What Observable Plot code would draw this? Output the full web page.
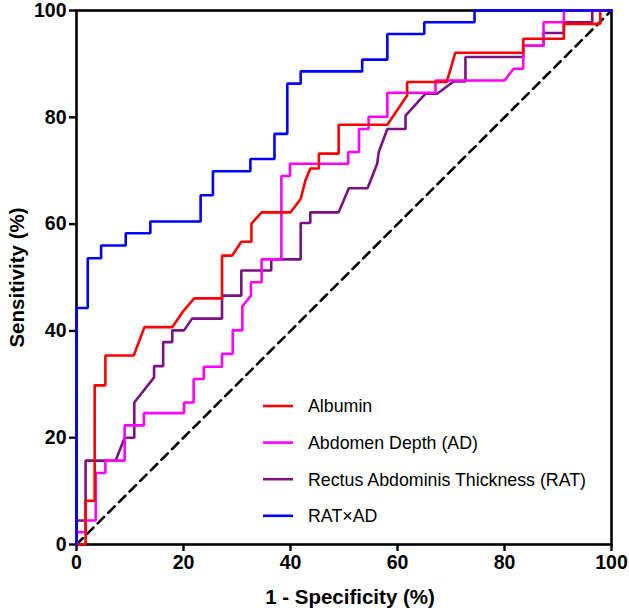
<!DOCTYPE html>
<html><head><meta charset="utf-8">
<script src="https://cdn.jsdelivr.net/npm/d3@7"></script>
<script src="https://cdn.jsdelivr.net/npm/@observablehq/plot@0.6"></script>
<style>body{margin:0;background:#fff}</style>
</head><body><div id="chart"></div>
<script>
const seriesNames = ["Albumin", "Abdomen Depth (AD)", "Rectus Abdominis Thickness (RAT)", "RAT×AD"];
const seriesColors = ["#ff0000", "#ff00ff", "#7b1282", "#0000ff"];
const axisTicks = [0, 20, 40, 60, 80, 100];
const xTitle = "1 - Specificity (%)";
const yTitle = "Sensitivity (%)";
const chanceLine = [[0, 0], [100, 100]];

const albumin = [[0,0],[1.7,0],[1.7,8.2],[3.4,8.2],[3.4,29.8],[5.4,29.8],[5.4,35.4],[10.7,35.4],[12.7,40.7],[17.9,40.7],[19.8,43.5],[22,46.1],[27.2,46.1],[27.2,54.1],[29.1,54.1],[30.8,56.7],[32.7,56.7],[32.7,60.1],[34.6,62.2],[40.0,62.2],[41.9,64.7],[42.8,68.2],[43.7,70.4],[45.3,70.4],[45.3,73.2],[49.0,73.2],[49.0,78.6],[58.1,78.6],[61.8,84.1],[61.8,86.6],[69.2,86.6],[70.8,92.1],[83.5,92.1],[83.5,94.7],[91.1,94.7],[91.1,97.5],[97.9,97.5],[97.9,100],[100,100]];

const abdomenDepth = [[0,0],[0,2.3],[1.7,2.3],[1.7,4.5],[3.6,4.5],[3.6,13.4],[5.4,13.4],[5.4,15.7],[9.0,15.7],[9.0,22.3],[12.6,22.3],[12.6,24.6],[20.1,24.6],[20.1,26.6],[21.9,26.6],[21.9,31.0],[23.8,31.0],[23.8,33.3],[27.2,33.3],[27.2,35.7],[29.2,35.7],[29.2,40.1],[31.0,40.1],[31.0,44.6],[32.6,46.6],[32.6,49.1],[34.6,49.1],[34.6,53.4],[38.3,53.4],[38.3,69.0],[39.9,69.0],[39.9,71.3],[50.8,71.3],[50.8,73.5],[52.8,73.5],[52.8,77.8],[54.6,77.8],[54.6,80.1],[58.1,80.1],[58.1,84.6],[67.1,84.6],[67.1,86.9],[80.0,86.9],[81.7,89.1],[83.5,89.1],[83.5,93.4],[87.3,93.4],[87.3,97.8],[91.1,97.8],[91.1,100],[100,100]];

const rat = [[0,0],[0,4.5],[1.7,4.5],[1.7,15.7],[7.3,15.7],[9.0,20.0],[10.8,20.0],[10.8,26.6],[14.5,31.3],[14.5,33.4],[16.2,33.4],[16.2,37.9],[17.9,37.9],[17.9,40.1],[20.1,40.1],[21.6,42.3],[27.2,42.3],[27.2,46.6],[30.8,46.6],[30.8,51.3],[36.4,51.3],[36.4,53.4],[41.9,53.4],[41.9,60.2],[43.7,60.2],[43.7,62.2],[49.0,62.2],[50.9,66.7],[54.4,66.7],[56.2,71.3],[56.5,73.5],[58.1,77.8],[61.5,77.8],[61.5,80.3],[65.2,84.4],[67.4,84.4],[70.5,86.7],[72.7,86.7],[72.7,91.3],[83.5,91.3],[83.5,93.4],[87.3,93.4],[87.3,95.8],[91.1,95.8],[91.1,97.8],[96.4,97.8],[96.4,100],[100,100]];

const ratAd = [[0,0],[0,44.3],[2.1,44.3],[2.1,53.6],[4.6,53.6],[4.6,56],[9.2,56],[9.2,58.3],[13.8,58.3],[13.8,60.5],[23.2,60.5],[23.2,65.4],[25.5,65.4],[25.5,69.9],[32.5,69.9],[32.5,72.2],[37.0,72.2],[37.0,76.9],[39.4,76.9],[39.4,86.3],[41.9,86.3],[41.9,88.6],[53.4,88.6],[53.4,90.8],[58.1,90.8],[58.1,95.6],[65.0,95.6],[65.0,97.8],[74.4,97.8],[74.4,100],[100,100]];

const seriesPoints = [albumin, abdomenDepth, rat, ratAd];
const rows = seriesPoints.flatMap((pts, i) => pts.map(([x, y]) => ({x, y, name: seriesNames[i]})));
const drawOrder = [2, 1, 0, 3];

const plot = Plot.plot({
  width: 629, height: 613,
  marginLeft: 76, marginRight: 18, marginTop: 10, marginBottom: 69,
  style: {fontFamily: "'Liberation Sans', Arial, sans-serif", background: "white", color: "black"},
  x: {domain: [0, 100]},
  y: {domain: [0, 100]},
  color: {domain: seriesNames, range: seriesColors},
  marks: [
    Plot.frame({stroke: "black", strokeWidth: 2.6}),
    Plot.axisX({ticks: axisTicks, tickSize: 7, tickPadding: 4, strokeWidth: 2.4, fontSize: 19.5, fontWeight: "bold", label: null}),
    Plot.axisY({ticks: axisTicks, tickSize: 7, tickPadding: 3, strokeWidth: 2.4, fontSize: 19.5, fontWeight: "bold", label: null}),
    Plot.line(chanceLine, {x: d => d[0], y: d => d[1], stroke: "black", strokeWidth: 2.6, strokeDasharray: "9,6"}),
    ...drawOrder.map(i => Plot.line(rows.filter(d => d.name === seriesNames[i]), {x: "x", y: "y", stroke: "name", strokeWidth: 2.6, curve: "linear", strokeLinejoin: "miter"})),
    Plot.text([xTitle], {frameAnchor: "bottom", textAnchor: "middle", lineAnchor: "middle", dx: 6, dy: 53, fontSize: 20.5, fontWeight: "bold", text: d => d}),
    Plot.text([yTitle], {frameAnchor: "left", textAnchor: "middle", lineAnchor: "middle", dx: -59, rotate: -90, fontSize: 20.5, fontWeight: "bold", text: d => d})
  ]
});

// legend inside the plot area
const svg = d3.select(plot);
const lg = svg.append("g")
  .attr("font-family", "'Liberation Sans', Arial, sans-serif")
  .attr("font-size", 17.8)
  .attr("text-anchor", "start");
seriesNames.forEach((name, i) => {
  const yy = 406 + i * 36.6;
  lg.append("line").attr("x1", 263).attr("x2", 293).attr("y1", yy).attr("y2", yy)
    .attr("stroke", seriesColors[i]).attr("stroke-width", 2.6);
  lg.append("text").attr("x", 308).attr("y", yy).attr("dy", "0.36em")
    .attr("text-anchor", "start").attr("fill", "black").text(name);
});

document.getElementById("chart").appendChild(plot);
</script>
</body></html>
